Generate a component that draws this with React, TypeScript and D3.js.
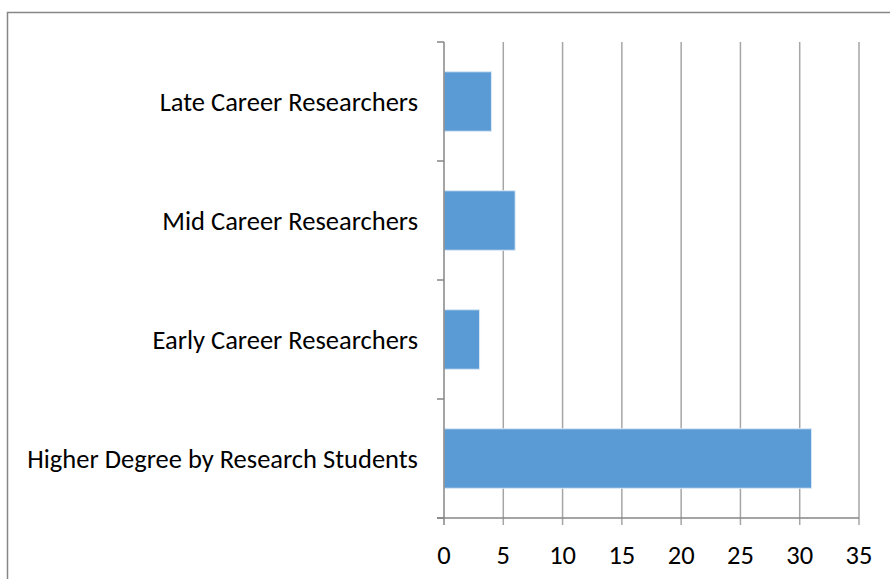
import React from 'react';
import * as d3 from 'd3';

const categories = [
  'Late Career Researchers',
  'Mid Career Researchers',
  'Early Career Researchers',
  'Higher Degree by Research Students',
];
const values = [4, 6, 3, 31];
const xTicks = [0, 5, 10, 15, 20, 25, 30, 35];

const W = 890;
const H = 579;
const margin = { left: 444, right: 31, top: 42, bottom: 61 };
const font = 'Carlito, "Open Sans", sans-serif';

export default function App() {
  const x = d3.scaleLinear().domain([0, 35]).range([margin.left, W - margin.right]);
  const y = d3
    .scaleBand<string>()
    .domain(categories)
    .range([margin.top, H - margin.bottom])
    .paddingInner(0.5)
    .paddingOuter(0.25);
  const band = d3.scaleBand<string>().domain(categories).range([margin.top, H - margin.bottom]);
  const bottom = H - margin.bottom;

  // category boundaries for the left ticks
  const bounds = categories.map((c) => band(c) as number).concat([bottom]);

  return (
    <svg
      width={W}
      height={H}
      style={{ position: 'absolute', left: 0, top: 0, background: '#fff' }}
    >
      {/* chart frame */}
      <rect x={7.5} y={12.5} width={W} height={H} fill="none" stroke="#868686" strokeWidth={1.5} />

      {/* vertical gridlines */}
      {xTicks.slice(1).map((t) => (
        <line key={t} x1={x(t)} x2={x(t)} y1={margin.top} y2={bottom + 7} stroke="#a6a6a6" strokeWidth={1.5} />
      ))}

      {/* bars */}
      {categories.map((c, i) => (
        <rect
          key={c}
          x={x(0)}
          y={y(c)}
          width={x(values[i]) - x(0)}
          height={y.bandwidth()}
          fill="#5b9bd5"
          stroke="#dce9f5"
          strokeWidth={1}
        />
      ))}

      {/* axes */}
      <line x1={x(0)} x2={x(0)} y1={margin.top} y2={bottom + 7} stroke="#868686" strokeWidth={1.5} />
      <line x1={x(0) - 7} x2={x(35)} y1={bottom} y2={bottom} stroke="#868686" strokeWidth={1.5} />
      {bounds.map((b, i) => (
        <line key={i} x1={x(0) - 7} x2={x(0)} y1={b} y2={b} stroke="#868686" strokeWidth={1.5} />
      ))}

      {/* category labels */}
      {categories.map((c) => (
        <text
          key={c}
          x={x(0) - 26}
          y={(band(c) as number) + band.bandwidth() / 2}
          dy="0.35em"
          textAnchor="end"
          fontFamily={font}
          fontSize={26.5}
          fill="#000"
        >
          {c}
        </text>
      ))}

      {/* x tick labels */}
      {xTicks.map((t) => (
        <text
          key={t}
          x={x(t)}
          y={bottom + 37}
          dy="0.35em"
          textAnchor="middle"
          fontFamily={font}
          fontSize={26.5}
          fill="#000"
        >
          {t}
        </text>
      ))}
    </svg>
  );
}
